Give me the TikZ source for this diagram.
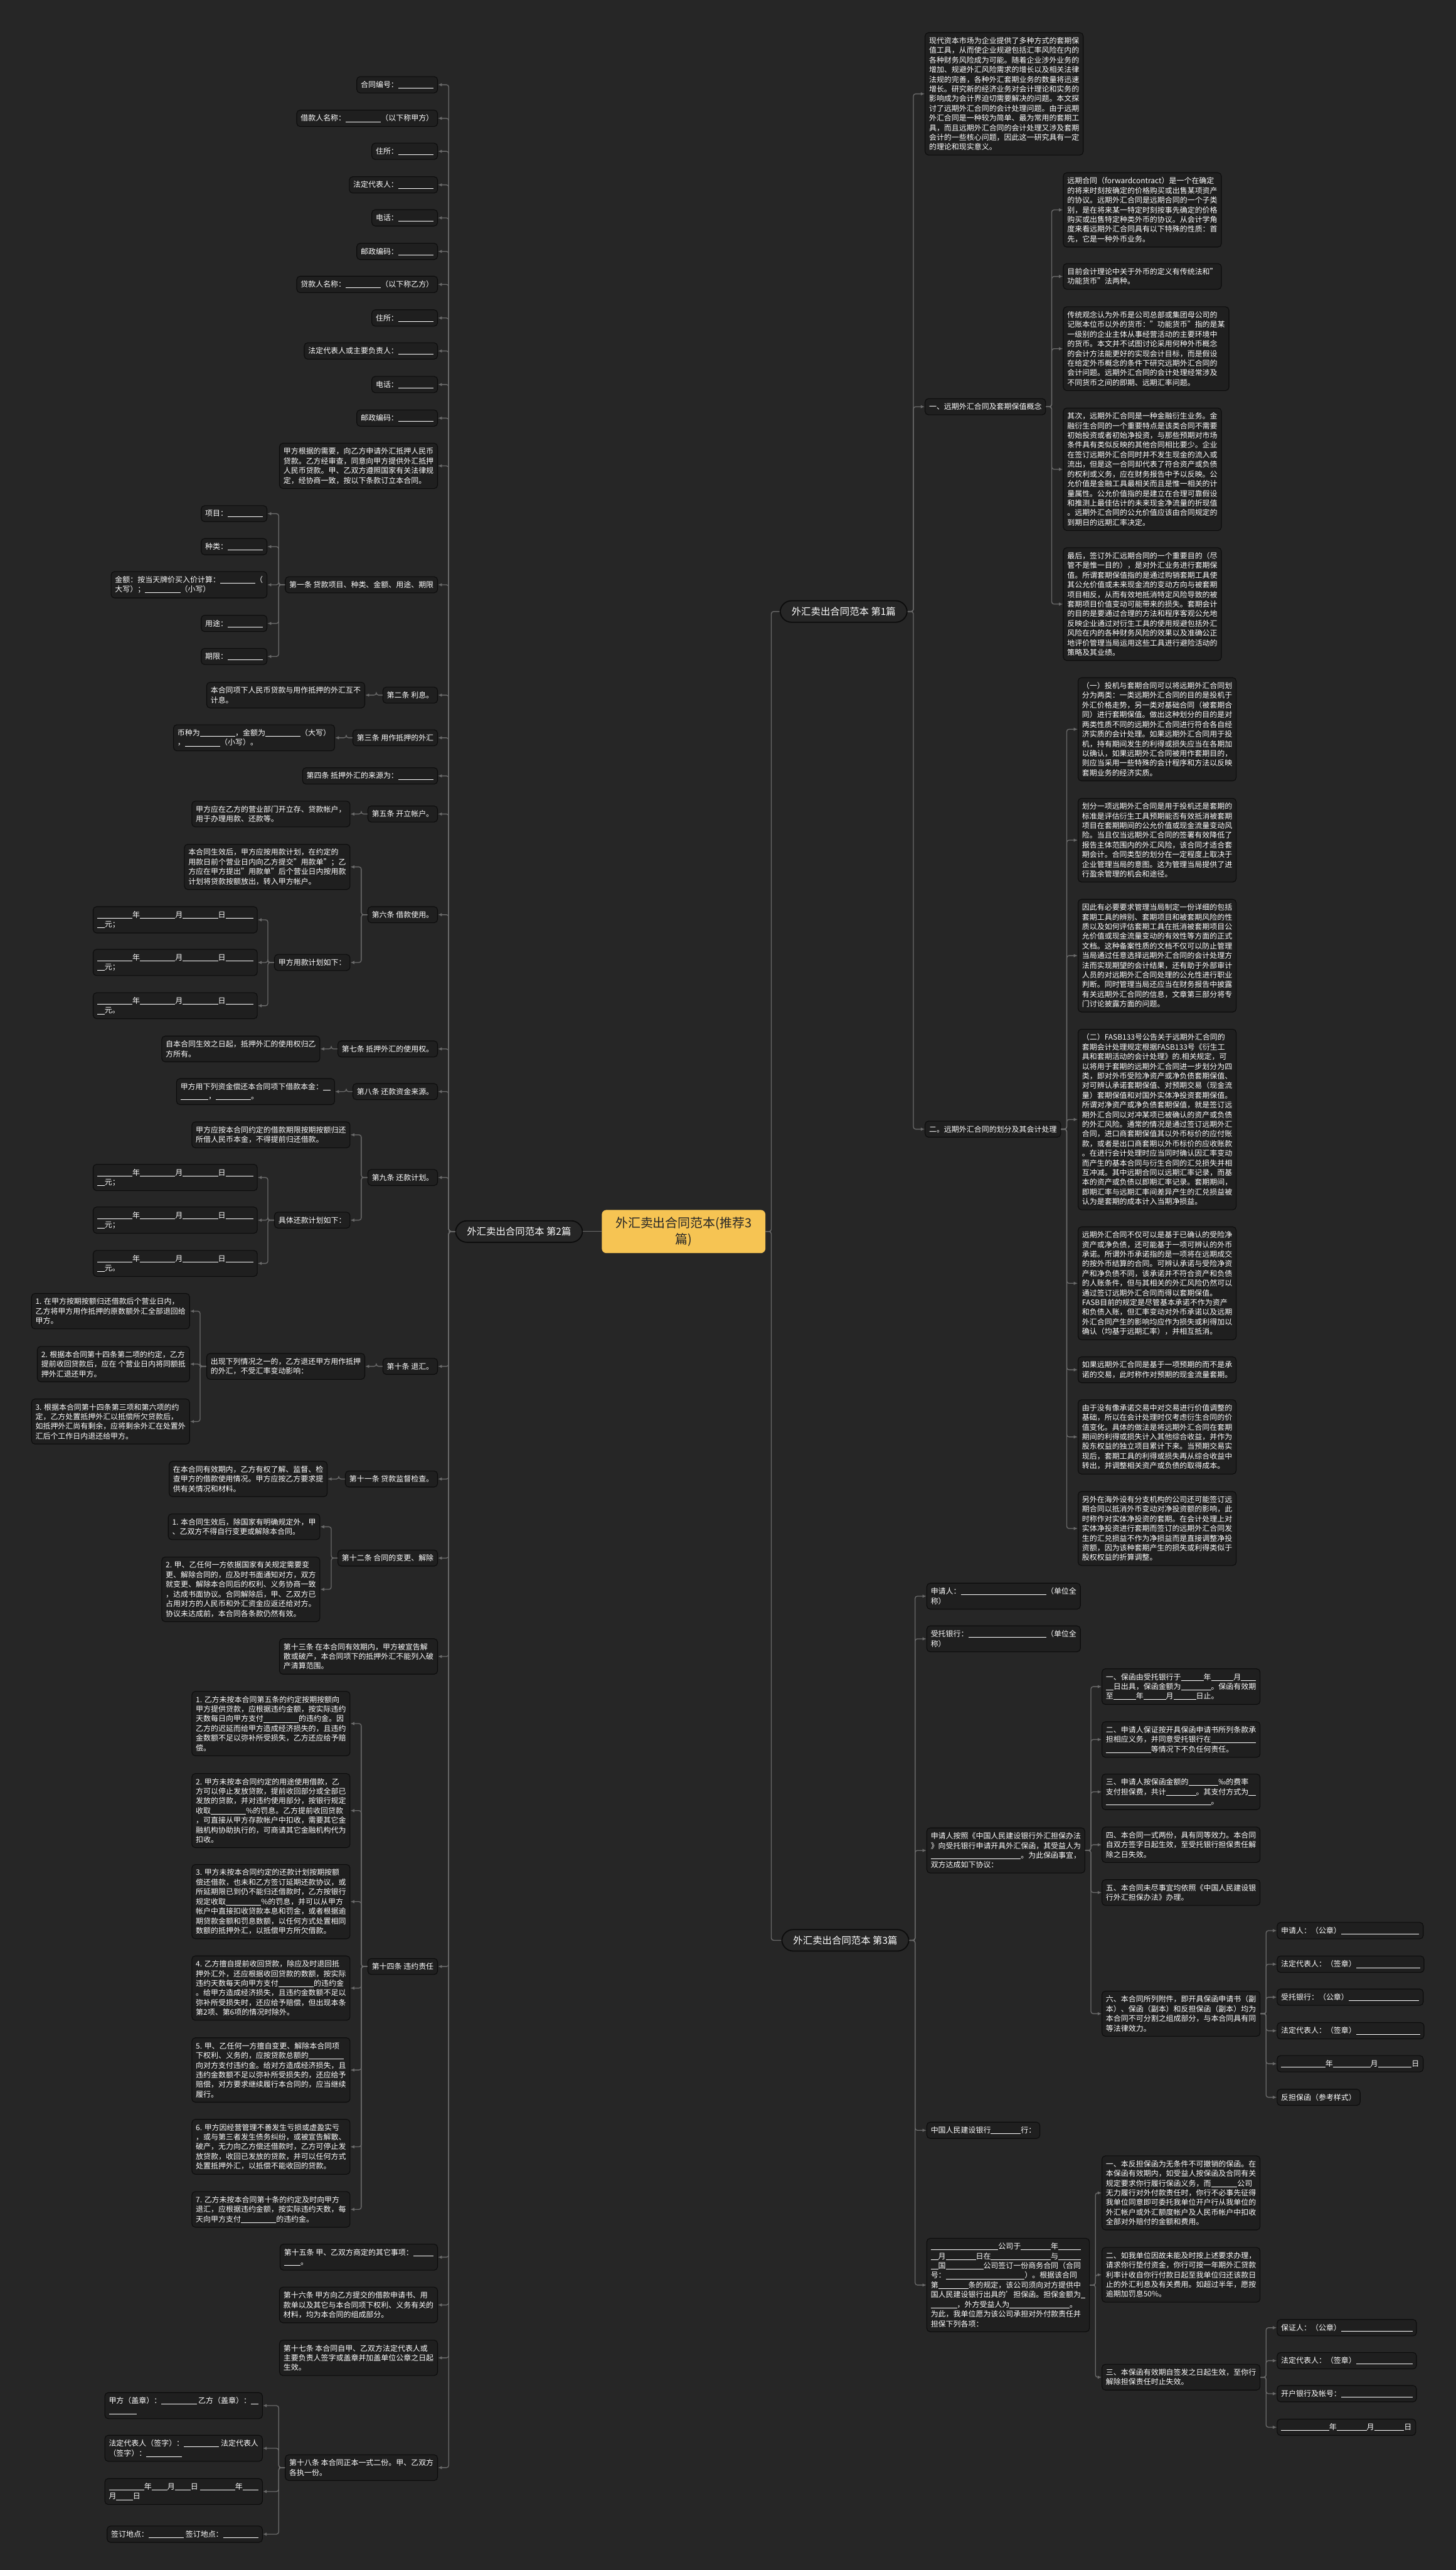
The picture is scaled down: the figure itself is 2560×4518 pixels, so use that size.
\documentclass[tikz,border=0pt]{standalone}
\usepackage{fontspec}
\setmainfont{Noto Sans CJK SC}
\usetikzlibrary{arrows.meta,positioning,calc}
\definecolor{bgc}{HTML}{262626}
\definecolor{boxc}{HTML}{1F1F1F}
\definecolor{edgec}{HTML}{0C0C0C}
\definecolor{lnc}{HTML}{6A6A6A}
\definecolor{hubc}{HTML}{F6C453}
\newcommand{\bl}[1]{\rule[-0.12em]{#1em}{0.07em}}
\newcommand{\fs}{\fontsize{6.6}{8.5}\selectfont}

\begin{document}
\begin{tikzpicture}[x=0.5pt,y=-0.5pt,
  nd/.style={draw=edgec,fill=boxc,line width=0.6pt,rounded corners=3pt,text=white,font=\fs,align=left,inner xsep=3.5pt,inner ysep=4pt},
  le/.style={nd,anchor=east},
  ri/.style={nd,anchor=west},
  br/.style={draw=edgec,fill=bgc,line width=1pt,rounded corners=10pt,text=white,font=\fontsize{8.5}{10}\selectfont,inner xsep=10pt,inner ysep=5.5pt},
  hub/.style={fill=hubc,rounded corners=4pt,text=black!85,font=\fontsize{11}{14.5}\selectfont,align=center,inner xsep=12pt,inner ysep=6pt},
  lk/.style={draw=lnc,line width=0.75pt,rounded corners=2pt,-{Latex[length=3.5pt,width=3pt]}},
  tr/.style={draw=lnc,line width=0.75pt,rounded corners=2pt}]
  \useasboundingbox (0,0) rectangle (2560,4518);
  \fill[bgc] (0,0) rectangle (2560,4518);
  % centre and branches
  \node[hub] (hub) at (1202,2165) {外汇卖出合同范本(推荐3\\篇)};
  \node[br,anchor=east] (b1) at (1596,1075) {外汇卖出合同范本 第1篇};
  \node[br,anchor=west] (b2) at (800,2165) {外汇卖出合同范本 第2篇};
  \node[br,anchor=east] (b3) at (1599,3411) {外汇卖出合同范本 第3篇};
  \draw[tr] (hub.west) -- (b2.east);
  \draw[tr] (hub.east) -- ++(10,0) |- (b1.west);
  \draw[tr] (hub.east) -- ++(10,0) |- (b3.west);

  % ---- 第2篇 (left) ----
  \node[le] (hno) at (770,149) {合同编号：\bl{4.7}};
  \node[le] (jnm) at (770,208) {借款人名称：\bl{4.7}（以下称甲方）};
  \node[le] (jad) at (770,266) {住所：\bl{4.7}};
  \node[le] (jrp) at (770,325) {法定代表人：\bl{4.7}};
  \node[le] (jtl) at (770,383) {电话：\bl{4.7}};
  \node[le] (jpc) at (770,442) {邮政编码：\bl{4.7}};
  \node[le] (ynm) at (770,500) {贷款人名称：\bl{4.7}（以下称乙方）};
  \node[le] (yad) at (770,559) {住所：\bl{4.7}};
  \node[le] (yrp) at (770,617) {法定代表人或主要负责人：\bl{4.7}};
  \node[le] (ytl) at (770,676) {电话：\bl{4.7}};
  \node[le] (ypc) at (770,735) {邮政编码：\bl{4.7}};
  \node[le] (pre) at (770,819) {甲方根据的需要，向乙方申请外汇抵押人民币\\贷款。乙方经审查，同意向甲方提供外汇抵押\\人民币贷款。甲、乙双方遵照国家有关法律规\\定，经协商一致，按以下条款订立本合同。};
  \node[le] (a1) at (770,1028) {第一条 贷款项目、种类、金额、用途、期限};
  \node[le] (a1a) at (470,903) {项目：\bl{4.7}};
  \node[le] (a1b) at (470,961) {种类：\bl{4.7}};
  \node[le] (a1c) at (470,1028) {金额：按当天牌价买入价计算：\bl{4.7}（\\大写）；\bl{4.7}（小写）};
  \node[le] (a1d) at (470,1096) {用途：\bl{4.7}};
  \node[le] (a1e) at (470,1154) {期限：\bl{4.7}};
  \node[le] (a2) at (770,1222) {第二条 利息。};
  \node[le] (a2a) at (642,1222) {本合同项下人民币贷款与用作抵押的外汇互不\\计息。};
  \node[le] (a3) at (770,1297) {第三条 用作抵押的外汇};
  \node[le] (a3a) at (589,1297) {币种为\bl{4.7}，金额为\bl{4.7}（大写）\\，\bl{4.7}（小写）。};
  \node[le] (a4) at (770,1364) {第四条 抵押外汇的来源为：\bl{4.7}};
  \node[le] (a5) at (770,1431) {第五条 开立帐户。};
  \node[le] (a5a) at (616,1431) {甲方应在乙方的营业部门开立存、贷款帐户，\\用于办理用款、还款等。};
  \node[le] (a6) at (770,1608) {第六条 借款使用。};
  \node[le] (a6a) at (616,1524) {本合同生效后，甲方应按用款计划，在约定的\\用款日前个营业日内向乙方提交"用款单"；乙\\方应在甲方提出"用款单"后个营业日内按用款\\计划将贷款按额放出，转入甲方帐户。};
  \node[le] (a6b) at (616,1692) {甲方用款计划如下：};
  \node[le] (a6b1) at (453,1617) {\bl{4.7}年\bl{4.7}月\bl{4.7}日\bl{3.7}\\\bl{1}元；};
  \node[le] (a6b2) at (453,1692) {\bl{4.7}年\bl{4.7}月\bl{4.7}日\bl{3.7}\\\bl{1}元；};
  \node[le] (a6b3) at (453,1768) {\bl{4.7}年\bl{4.7}月\bl{4.7}日\bl{3.7}\\\bl{1}元。};
  \node[le] (a7) at (770,1844) {第七条 抵押外汇的使用权。};
  \node[le] (a7a) at (563,1844) {自本合同生效之日起，抵押外汇的使用权归乙\\方所有。};
  \node[le] (a8) at (770,1919) {第八条 还款资金来源。};
  \node[le] (a8a) at (589,1919) {甲方用下列资金偿还本合同项下借款本金：\bl{1}\\\bl{3.7}，\bl{4.7}。};
  \node[le] (a9) at (770,2070) {第九条 还款计划。};
  \node[le] (a9a) at (616,1995) {甲方应按本合同约定的借款期限按期按额归还\\所借人民币本金，不得提前归还借款。};
  \node[le] (a9b) at (616,2145) {具体还款计划如下：};
  \node[le] (a9b1) at (453,2070) {\bl{4.7}年\bl{4.7}月\bl{4.7}日\bl{3.7}\\\bl{1}元；};
  \node[le] (a9b2) at (453,2145) {\bl{4.7}年\bl{4.7}月\bl{4.7}日\bl{3.7}\\\bl{1}元；};
  \node[le] (a9b3) at (453,2221) {\bl{4.7}年\bl{4.7}月\bl{4.7}日\bl{3.7}\\\bl{1}元。};
  \node[le] (a10) at (770,2402) {第十条 退汇。};
  \node[le] (a10a) at (642,2402) {出现下列情况之一的，乙方退还甲方用作抵押\\的外汇，不受汇率变动影响：};
  \node[le] (a10a1) at (334,2305) {1. 在甲方按期按额归还借款后个营业日内，\\乙方将甲方用作抵押的原数额外汇全部退回给\\甲方。};
  \node[le] (a10a2) at (334,2398) {2. 根据本合同第十四条第二项的约定，乙方\\提前收回贷款后，应在 个营业日内将同额抵\\押外汇退还甲方。};
  \node[le] (a10a3) at (334,2499) {3. 根据本合同第十四条第三项和第六项的约\\定，乙方处置抵押外汇以抵偿所欠贷款后，\\如抵押外汇尚有剩余，应将剩余外汇在处置外\\汇后个工作日内退还给甲方。};
  \node[le] (a11) at (770,2600) {第十一条 贷款监督检查。};
  \node[le] (a11a) at (576,2600) {在本合同有效期内，乙方有权了解、监督、检\\查甲方的借款使用情况。甲方应按乙方要求提\\供有关情况和材料。};
  \node[le] (a12) at (770,2739) {第十二条 合同的变更、解除};
  \node[le] (a12a) at (563,2684) {1. 本合同生效后，除国家有明确规定外，甲\\、乙双方不得自行变更或解除本合同。};
  \node[le] (a12b) at (563,2794) {2. 甲、乙任何一方依据国家有关规定需要变\\更、解除合同的，应及时书面通知对方，双方\\就变更、解除本合同后的权利、义务协商一致\\，达成书面协议。合同解除后，甲、乙双方已\\占用对方的人民币和外汇资金应返还给对方。\\协议未达成前，本合同各条款仍然有效。};
  \node[le] (a13) at (770,2912) {第十三条 在本合同有效期内，甲方被宣告解\\散或破产，本合同项下的抵押外汇不能列入破\\产清算范围。};
  \node[le] (a14) at (770,3457) {第十四条 违约责任};
  \node[le] (a14a) at (616,3030) {1. 乙方未按本合同第五条的约定按期按额向\\甲方提供贷款，应根据违约金额，按实际违约\\天数每日向甲方支付\bl{4.7}的违约金。因\\乙方的迟延而给甲方造成经济损失的，且违约\\金数额不足以弥补所受损失，乙方还应给予赔\\偿。};
  \node[le] (a14b) at (616,3183) {2. 甲方未按本合同约定的用途使用借款，乙\\方可以停止发放贷款，提前收回部分或全部已\\发放的贷款，并对违约使用部分，按银行规定\\收取\bl{4.7}\%的罚息。乙方提前收回贷款\\，可直接从甲方存款帐户中扣收，需要其它金\\融机构协助执行的，可商请其它金融机构代为\\扣收。};
  \node[le] (a14c) at (616,3343) {3. 甲方未按本合同约定的还款计划按期按额\\偿还借款，也未和乙方签订延期还款协议，或\\所延期限已到仍不能归还借款时，乙方按银行\\规定收取\bl{4.7}\%的罚息，并可以从甲方\\帐户中直接扣收贷款本息和罚金，或者根据逾\\期贷款金额和罚息数额，以任何方式处置相同\\数额的抵押外汇，以抵偿甲方所欠借款。};
  \node[le] (a14d) at (616,3495) {4. 乙方擅自提前收回贷款，除应及时退回抵\\押外汇外，还应根据收回贷款的数额，按实际\\违约天数每天向甲方支付\bl{4.7}的违约金\\。给甲方造成经济损失，且违约金数额不足以\\弥补所受损失时，还应给予赔偿，但出现本条\\第2项、第6项的情况时除外。};
  \node[le] (a14e) at (616,3639) {5. 甲、乙任何一方擅自变更、解除本合同项\\下权利、义务的，应按贷款总额的\bl{4.7}\\向对方支付违约金。给对方造成经济损失，且\\违约金数额不足以弥补所受损失的，还应给予\\赔偿，对方要求继续履行本合同的，应当继续\\履行。};
  \node[le] (a14f) at (616,3774) {6. 甲方因经营管理不善发生亏损或虚盈实亏\\，或与第三者发生债务纠纷，或被宣告解散、\\破产，无力向乙方偿还借款时，乙方可停止发\\放贷款，收回已发放的贷款，并可以任何方式\\处置抵押外汇，以抵偿不能收回的贷款。};
  \node[le] (a14g) at (616,3884) {7. 乙方未按本合同第十条的约定及时向甲方\\退汇，应根据违约金额，按实际违约天数，每\\天向甲方支付\bl{4.7}的违约金。};
  \node[le] (a15) at (770,3968) {第十五条 甲、乙双方商定的其它事项：\bl{2.7}\\\bl{2.2}。};
  \node[le] (a16) at (770,4052) {第十六条 甲方向乙方提交的借款申请书、用\\款单以及其它与本合同项下权利、义务有关的\\材料，均为本合同的组成部分。};
  \node[le] (a17) at (770,4145) {第十七条 本合同自甲、乙双方法定代表人或\\主要负责人签字或盖章并加盖单位公章之日起\\生效。};
  \node[le] (a18) at (770,4338) {第十八条 本合同正本一式二份。甲、乙双方\\各执一份。};
  \node[le] (a18a) at (462,4229) {甲方（盖章）：\bl{4.7} 乙方（盖章）：\bl{1}\\\bl{3.7}};
  \node[le] (a18b) at (462,4304) {法定代表人（签字）：\bl{4.7} 法定代表人\\（签字）：\bl{4.7}};
  \node[le] (a18c) at (462,4380) {\bl{4.7}年\bl{2.1}月\bl{2.1}日 \bl{4.7}年\bl{2.1}\\月\bl{2.2}日};
  \node[le] (a18d) at (462,4455) {签订地点：\bl{4.7} 签订地点：\bl{4.7}};

  \foreach \c in {hno,jnm,jad,jrp,jtl,jpc,ynm,yad,yrp,ytl,ypc,pre,a1,a2,a3,a4,a5,a6,a7,a8,a9,a10,a11,a12,a13,a14,a15,a16,a17,a18}
    \draw[lk] (b2.west) -- ++(-11,0) |- (\c.east);
  \foreach \p/\c in {a1/a1a,a1/a1b,a1/a1c,a1/a1d,a1/a1e,a2/a2a,a3/a3a,a5/a5a,a6/a6a,a6/a6b,a6b/a6b1,a6b/a6b2,a6b/a6b3,a7/a7a,a8/a8a,a9/a9a,a9/a9b,a9b/a9b1,a9b/a9b2,a9b/a9b3,a10/a10a,a10a/a10a1,a10a/a10a2,a10a/a10a3,a11/a11a,a12/a12a,a12/a12b,a14/a14a,a14/a14b,a14/a14c,a14/a14d,a14/a14e,a14/a14f,a14/a14g,a18/a18a,a18/a18b,a18/a18c,a18/a18d}
    \draw[lk] (\p.west) -- ++(-11,0) |- (\c.east);

  % ---- 第1篇 (right, top) ----
  \node[ri] (r1) at (1626,165) {现代资本市场为企业提供了多种方式的套期保\\值工具，从而使企业规避包括汇率风险在内的\\各种财务风险成为可能。随着企业涉外业务的\\增加、规避外汇风险需求的增长以及相关法律\\法规的完善，各种外汇套期业务的数量将迅速\\增长。研究新的经济业务对会计理论和实务的\\影响成为会计界迫切需要解决的问题。本文探\\讨了远期外汇合同的会计处理问题。由于远期\\外汇合同是一种较为简单、最为常用的套期工\\具，而且远期外汇合同的会计处理又涉及套期\\会计的一些核心问题，因此这一研究具有一定\\的理论和现实意义。};
  \node[ri] (r2) at (1626,715) {一、远期外汇合同及套期保值概念};
  \node[ri] (r2a) at (1869,369) {远期合同（forwardcontract）是一个在确定\\的将来时刻按确定的价格购买或出售某项资产\\的协议。远期外汇合同是远期合同的一个子类\\别，是在将来某一特定时刻按事先确定的价格\\购买或出售特定种类外币的协议。从会计学角\\度来看远期外汇合同具有以下特殊的性质：首\\先，它是一种外币业务。};
  \node[ri] (r2b) at (1869,486) {目前会计理论中关于外币的定义有传统法和"\\功能货币"法两种。};
  \node[ri] (r2c) at (1869,613) {传统观念认为外币是公司总部或集团母公司的\\记账本位币以外的货币："功能货币"指的是某\\一级别的企业主体从事经营活动的主要环境中\\的货币。本文并不试图讨论采用何种外币概念\\的会计方法能更好的实现会计目标，而是假设\\在给定外币概念的条件下研究远期外汇合同的\\会计问题。远期外汇合同的会计处理经常涉及\\不同货币之间的即期、远期汇率问题。};
  \node[ri] (r2d) at (1869,825) {其次，远期外汇合同是一种金融衍生业务。金\\融衍生合同的一个重要特点是该类合同不需要\\初始投资或者初始净投资，与那些预期对市场\\条件具有类似反映的其他合同相比要少。企业\\在签订远期外汇合同时并不发生现金的流入或\\流出，但是这一合同却代表了符合资产或负债\\的权利或义务，应在财务报告中予以反映。公\\允价值是金融工具最相关而且是惟一相关的计\\量属性。公允价值指的是建立在合理可靠假设\\和推测上最佳估计的未来现金净流量的折现值\\。远期外汇合同的公允价值应该由合同规定的\\到期日的远期汇率决定。};
  \node[ri] (r2e) at (1869,1062) {最后，签订外汇远期合同的一个重要目的（尽\\管不是惟一目的），是对外汇业务进行套期保\\值。所谓套期保值指的是通过购销套期工具使\\其公允价值或未来现金流的变动方向与被套期\\项目相反，从而有效地抵消特定风险导致的被\\套期项目价值变动可能带来的损失。套期会计\\的目的是要通过合理的方法和程序客观公允地\\反映企业通过对衍生工具的使用规避包括外汇\\风险在内的各种财务风险的效果以及准确公正\\地评价管理当局运用这些工具进行避险活动的\\策略及其业绩。};
  \node[ri] (r3) at (1626,1985) {二。远期外汇合同的划分及其会计处理};
  \node[ri] (r3a) at (1895,1282) {（一）投机与套期合同可以将远期外汇合同划\\分为两类：一类远期外汇合同的目的是投机于\\外汇价格走势，另一类对基础合同（被套期合\\同）进行套期保值。做出这种划分的目的是对\\两类性质不同的远期外汇合同进行符合各自经\\济实质的会计处理。如果远期外汇合同用于投\\机，持有期间发生的利得或损失应当在各期加\\以确认，如果远期外汇合同被用作套期目的，\\则应当采用一些特殊的会计程序和方法以反映\\套期业务的经济实质。};
  \node[ri] (r3b) at (1895,1477) {划分一项远期外汇合同是用于投机还是套期的\\标准是评估衍生工具预期能否有效抵消被套期\\项目在套期期间的公允价值或现金流量变动风\\险。当且仅当远期外汇合同的签署有效降低了\\报告主体范围内的外汇风险，该合同才适合套\\期会计。合同类型的划分在一定程度上取决于\\企业管理当局的意图。这为管理当局提供了进\\行盈余管理的机会和途径。};
  \node[ri] (r3c) at (1895,1680) {因此有必要要求管理当局制定一份详细的包括\\套期工具的辨别、套期项目和被套期风险的性\\质以及如何评估套期工具在抵消被套期项目公\\允价值或现金流量变动的有效性等方面的正式\\文档。这种备案性质的文档不仅可以防止管理\\当局通过任意选择远期外汇合同的会计处理方\\法而实现期望的会计结果，还有助于外部审计\\人员的对远期外汇合同处理的公允性进行职业\\判断。同时管理当局还应当在财务报告中披露\\有关远期外汇合同的信息，文章第三部分将专\\门讨论披露方面的问题。};
  \node[ri] (r3d) at (1895,1968) {（二）FASB133号公告关于远期外汇合同的\\套期会计处理规定根据FASB133号《衍生工\\具和套期活动的会计处理》的.相关规定，可\\以将用于套期的远期外汇合同进一步划分为四\\类，即对外币受险净资产或净负债套期保值、\\对可辨认承诺套期保值、对预期交易（现金流\\量）套期保值和对国外实体净投资套期保值。\\所谓对净资产或净负债套期保值，就是签订远\\期外汇合同以对冲某项已被确认的资产或负债\\的外汇风险。通常的情况是通过签订远期外汇\\合同，进口商套期保值其以外币标价的应付账\\款，或者是出口商套期以外币标价的应收账款\\。在进行会计处理时应当同时确认因汇率变动\\而产生的基本合同与衍生合同的汇兑损失并相\\互冲减。其中远期合同以远期汇率记录，而基\\本的资产或负债以即期汇率记录。套期期间，\\即期汇率与远期汇率间差异产生的汇兑损益被\\认为是套期的成本计入当期净损益。};
  \node[ri] (r3e) at (1895,2256) {远期外汇合同不仅可以是基于已确认的受险净\\资产或净负债，还可能基于一项可辨认的外币\\承诺。所谓外币承诺指的是一项将在远期成交\\的按外币结算的合同。可辨认承诺与受险净资\\产和净负债不同，该承诺并不符合资产和负债\\的人账条件，但与其相关的外汇风险仍然可以\\通过签订远期外汇合同而得以套期保值。\\FASB目前的规定是尽管基本承诺不作为资产\\和负债入账，但汇率变动对外币承诺以及远期\\外汇合同产生的影响均应作为损失或利得加以\\确认（均基于远期汇率），并相互抵消。};
  \node[ri] (r3f) at (1895,2408) {如果远期外汇合同是基于一项预期的而不是承\\诺的交易，此时称作对预期的现金流量套期。};
  \node[ri] (r3g) at (1895,2526) {由于没有像承诺交易中对交易进行价值调整的\\基础，所以在会计处理时仅考虑衍生合同的价\\值变化。具体的做法是将远期外汇合同在套期\\期间的利得或损失计入其他综合收益，并作为\\股东权益的独立项目累计下来。当预期交易实\\现后，套期工具的利得或损失再从综合收益中\\转出，并调整相关资产或负债的取得成本。};
  \node[ri] (r3h) at (1895,2687) {另外在海外设有分支机构的公司还可能签订远\\期合同以抵消外币变动对净投资额的影响，此\\时称作对实体净投资的套期。在会计处理上对\\实体净投资进行套期而签订的远期外汇合同发\\生的汇兑损益不作为净损益而是直接调整净投\\资额，因为该种套期产生的损失或利得类似于\\股权权益的折算调整。};

  % ---- 第3篇 (right, bottom) ----
  \node[ri] (s1) at (1629,2806) {申请人：\bl{11.4}（单位全\\称）};
  \node[ri] (s2) at (1629,2881) {受托银行：\bl{10.4}（单位全\\称）};
  \node[ri] (s3) at (1629,3253) {申请人按照《中国人民建设银行外汇担保办法\\》向受托银行申请开具外汇保函，其受益人为\\\bl{12}。为此保函事宜，\\双方达成如下协议：};
  \node[ri] (s3a) at (1937,2965) {一、保函由受托银行于\bl{3}年\bl{3}月\bl{2}\\\bl{1}日出具，保函金额为\bl{4}。保函有效期\\至\bl{3}年\bl{3}月\bl{3}日止。};
  \node[ri] (s3b) at (1937,3058) {二、申请人保证按开具保函申请书所列条款承\\担相应义务，并同意受托银行在\bl{6}\\\bl{6}等情况下不负任何责任。};
  \node[ri] (s3c) at (1937,3150) {三、申请人按保函金额的\bl{4}‰的费率\\支付担保费，共计\bl{4}。其支付方式为\bl{1}\\\bl{14}。};
  \node[ri] (s3d) at (1937,3243) {四、本合同一式两份，具有同等效力。本合同\\自双方签字日起生效，至受托银行担保责任解\\除之日失效。};
  \node[ri] (s3e) at (1937,3327) {五、本合同未尽事宜均依照《中国人民建设银\\行外汇担保办法》办理。};
  \node[ri] (s3f) at (1937,3540) {六、本合同所列附件，即开具保函申请书（副\\本）、保函（副本）和反担保函（副本）均为\\本合同不可分割之组成部分，与本合同具有同\\等法律效力。};
  \node[ri] (s3f1) at (2245,3394) {申请人：（公章）\bl{10.4}};
  \node[ri] (s3f2) at (2245,3453) {法定代表人：（签章）\bl{8.5}};
  \node[ri] (s3f3) at (2245,3511) {受托银行：（公章）\bl{9.4}};
  \node[ri] (s3f4) at (2245,3570) {法定代表人：（签章）\bl{8.5}};
  \node[ri] (s3f5) at (2245,3628) {\bl{5.9}年\bl{5}月\bl{4.5}日};
  \node[ri] (s3f6) at (2245,3687) {反担保函（参考样式）};
  \node[ri] (s4) at (1629,3745) {中国人民建设银行\bl{4}行：};
  \node[ri] (s5) at (1629,4017) {\bl{9}公司于\bl{4}年\bl{3}\\\bl{1}月\bl{4}日在\bl{8}与\bl{3}\\\bl{1}国\bl{5}公司签订一份商务合同（合同\\号：\bl{10.5}）。根据该合同\\第\bl{4}条的规定，该公司须向对方提供中\\国人民建设银行出具的'担保函。担保金额为\bl{0.6}\\\bl{3.5}，外方受益人为\bl{8}。\\为此，我单位愿为该公司承担对外付款责任并\\担保下列各项：};
  \node[ri] (s5a) at (1937,3855) {一、本反担保函为无条件不可撤销的保函。在\\本保函有效期内，如受益人按保函及合同有关\\规定要求你行履行保函义务，而\bl{3.5}公司\\无力履行对外付款责任时，你行不必事先征得\\我单位同意即可委托我单位开户行从我单位的\\外汇帐户或外汇额度帐户及人民币帐户中扣收\\全部对外赔付的金额和费用。};
  \node[ri] (s5b) at (1937,3999) {二、如我单位因故未能及时按上述要求办理，\\请求你行垫付资金，你行可按一年期外汇贷款\\利率计收自你行付款日起至我单位归还该款日\\止的外汇利息及有关费用。如超过半年，愿按\\逾期加罚息50\%。};
  \node[ri] (s5c) at (1937,4179) {三、本保函有效期自签发之日起生效，至你行\\解除担保责任时止失效。};
  \node[ri] (s5c1) at (2245,4092) {保证人：（公章）\bl{9.5}};
  \node[ri] (s5c2) at (2245,4150) {法定代表人：（签章）\bl{7.5}};
  \node[ri] (s5c3) at (2245,4208) {开户银行及帐号：\bl{9.5}};
  \node[ri] (s5c4) at (2245,4267) {\bl{6.4}年\bl{4}月\bl{4}日};

  \foreach \p/\c in {b1/r1,b1/r2,b1/r3,r2/r2a,r2/r2b,r2/r2c,r2/r2d,r2/r2e,r3/r3a,r3/r3b,r3/r3c,r3/r3d,r3/r3e,r3/r3f,r3/r3g,r3/r3h,b3/s1,b3/s2,b3/s3,b3/s4,b3/s5,s3/s3a,s3/s3b,s3/s3c,s3/s3d,s3/s3e,s3/s3f,s3f/s3f1,s3f/s3f2,s3f/s3f3,s3f/s3f4,s3f/s3f5,s3f/s3f6,s5/s5a,s5/s5b,s5/s5c,s5c/s5c1,s5c/s5c2,s5c/s5c3,s5c/s5c4}
    \draw[lk] (\p.east) -- ++(10,0) |- (\c.west);
\end{tikzpicture}
\end{document}
